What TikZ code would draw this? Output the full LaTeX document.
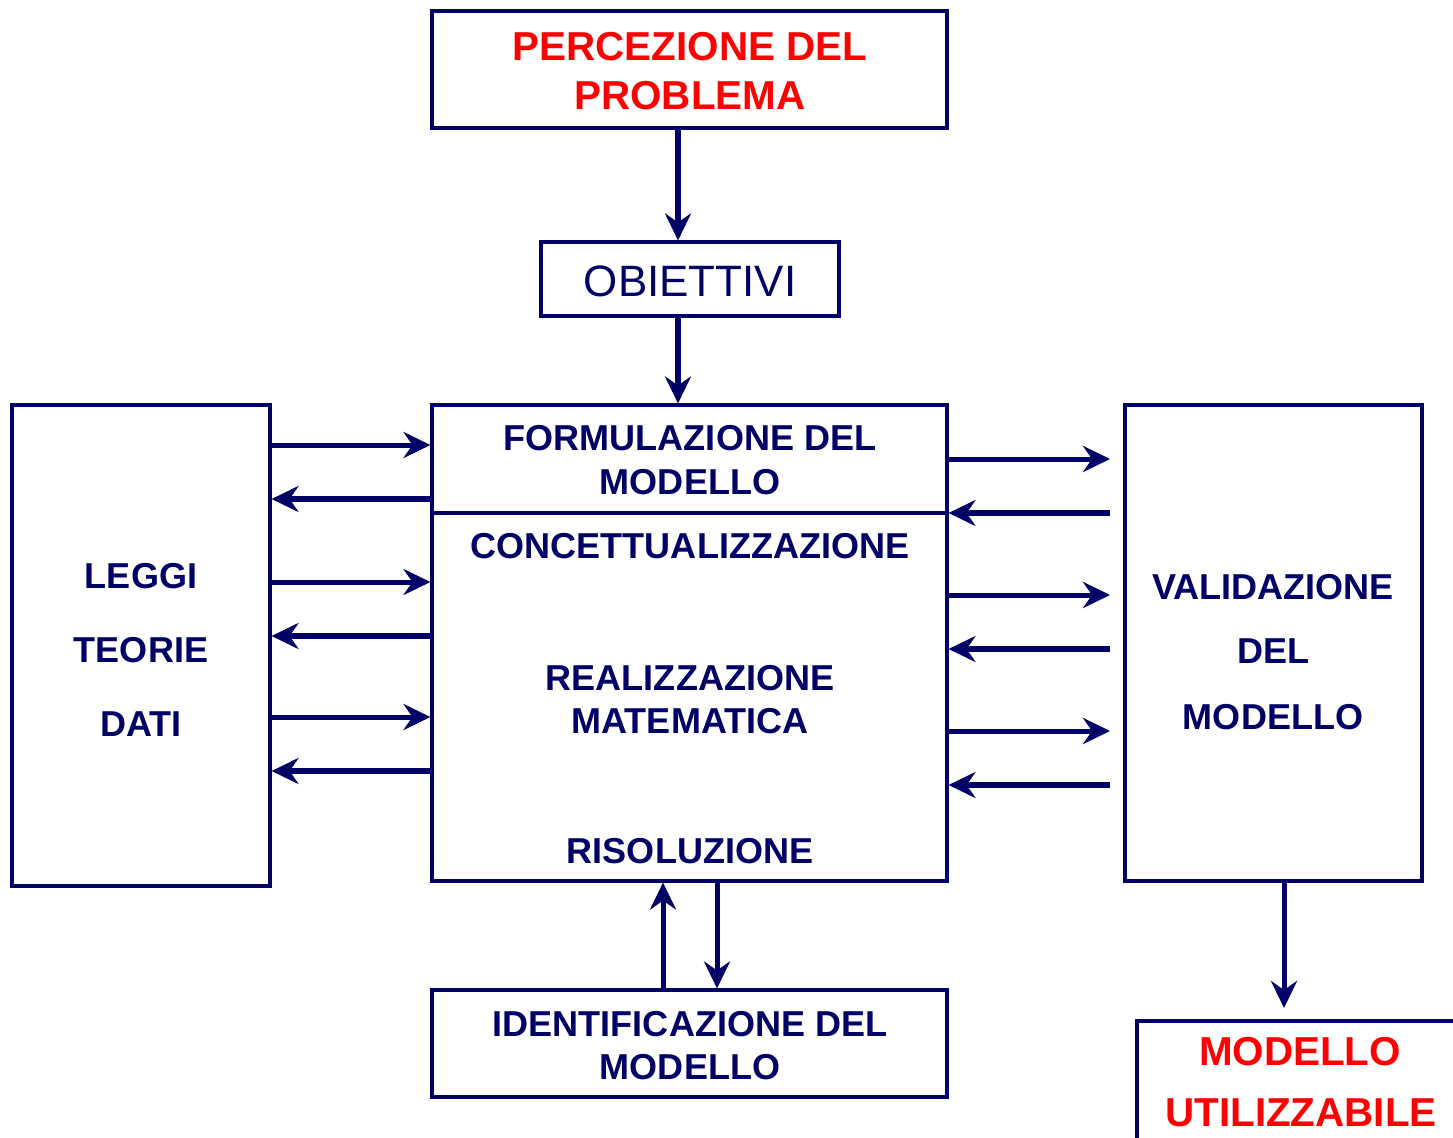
\documentclass[tikz,border=0pt]{standalone}
\usepackage{fontspec}
\setmainfont{Liberation Sans}
\usetikzlibrary{arrows.meta,fit,calc}
\definecolor{navy}{RGB}{0,0,102}
\definecolor{hred}{RGB}{255,0,0}
\begin{document}
\begin{tikzpicture}[x=0.02cm,y=-0.02cm,
  box/.style={draw=navy,line width=0.062cm,inner sep=0pt},
  boxline/.style={draw=navy,line width=0.062cm},
  arr/.style={draw=navy,line width=0.1cm,-{Stealth[length=0.54cm,width=0.52cm,inset=0.18cm]}},
  arrl/.style={arr,line width=0.12cm},
  txt/.style={font=\bfseries\fontsize{20.5}{24}\selectfont,text=navy,anchor=base,inner sep=0pt},
  rtxt/.style={font=\bfseries\fontsize{23}{27}\selectfont,text=hred,anchor=base,inner sep=0pt},
  otxt/.style={font=\fontsize{25}{30}\selectfont,text=navy,anchor=base,inner sep=0pt}]
\useasboundingbox (0,0) rectangle (1453,1138);
\clip (0,0) rectangle (1453,1138);
\fill[white] (0,0) rectangle (1453,1138);
% boxes
\node[box,fit={(432,11)(947,128)}] (perc) {};
\node[box,fit={(541,242)(839,316)}] (obi) {};
\node[box,fit={(432,405)(947,881)}] (main) {};
\node[box,fit={(12,405)(270,886)}] (leggi) {};
\node[box,fit={(1125,405)(1422,881)}] (valid) {};
\node[box,fit={(432,990)(947,1097)}] (ident) {};
\node[box,fit={(1137,1021)(1490,1180)}] (mu) {};
\coordinate (div) at (0,513);
\draw[boxline] (main.west |- div) -- (main.east |- div);
% texts
\node[rtxt] (p1) at (690,61) {PERCEZIONE DEL};
\node[rtxt] (p2) at (690,110) {PROBLEMA};
\node[otxt] (o1) at (690,297) {OBIETTIVI};
\node[txt] (f1) at (690,450) {FORMULAZIONE DEL};
\node[txt] (f2) at (690,494) {MODELLO};
\node[txt] (c1) at (690,558) {CONCETTUALIZZAZIONE};
\node[txt] (r1) at (690,690) {REALIZZAZIONE};
\node[txt] (r2) at (690,733) {MATEMATICA};
\node[txt] (s1) at (690,863) {RISOLUZIONE};
\node[txt] (l1) at (141,588) {LEGGI};
\node[txt] (l2) at (141,662) {TEORIE};
\node[txt] (l3) at (141,736) {DATI};
\node[txt] (v1) at (1273,599) {VALIDAZIONE};
\node[txt] (v2) at (1273,663) {DEL};
\node[txt] (v3) at (1273,729) {MODELLO};
\node[txt] (i1) at (690,1036) {IDENTIFICAZIONE DEL};
\node[txt] (i2) at (690,1079) {MODELLO};
\node[rtxt] (m1) at (1300,1065) {MODELLO};
\node[rtxt] (m2) at (1301,1126) {UTILIZZABILE};
% vertical arrows
\coordinate (ax) at (678,0);
\draw[arr,line width=0.11cm] (perc.south -| ax) -- (obi.north -| ax);
\draw[arr,line width=0.11cm] (obi.south -| ax) -- (main.north -| ax);
\coordinate (bu) at (663,0);
\coordinate (bd) at (717,0);
\draw[arr] (ident.north -| bu) -- (main.south -| bu);
\draw[arr] (main.south -| bd) -- (ident.north -| bd);
\coordinate (vend) at (1284,1008);
\draw[arr] (valid.south -| vend) -- (vend);
% left side
\coordinate (a1) at (0,445);
\coordinate (a2) at (0,499);
\coordinate (a3) at (0,582);
\coordinate (a4) at (0,636);
\coordinate (a5) at (0,717);
\coordinate (a6) at (0,771);
\draw[arr] (a1 -| leggi.east) -- (a1 -| main.west);
\draw[arrl] (a2 -| main.west) -- (a2 -| leggi.east);
\draw[arr] (a3 -| leggi.east) -- (a3 -| main.west);
\draw[arrl] (a4 -| main.west) -- (a4 -| leggi.east);
\draw[arr] (a5 -| leggi.east) -- (a5 -| main.west);
\draw[arrl] (a6 -| main.west) -- (a6 -| leggi.east);
% right side
\coordinate (b1) at (1110,459);
\coordinate (b2) at (1110,513);
\coordinate (b3) at (1110,595);
\coordinate (b4) at (1110,649);
\coordinate (b5) at (1110,731);
\coordinate (b6) at (1110,785);
\draw[arr] (b1 -| main.east) -- (b1);
\draw[arrl] (b2) -- (b2 -| main.east);
\draw[arr] (b3 -| main.east) -- (b3);
\draw[arrl] (b4) -- (b4 -| main.east);
\draw[arr] (b5 -| main.east) -- (b5);
\draw[arrl] (b6) -- (b6 -| main.east);
\end{tikzpicture}
\end{document}
